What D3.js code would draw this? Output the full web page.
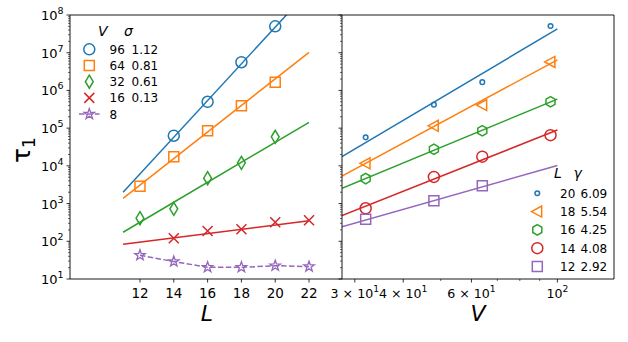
<!DOCTYPE html>
<html><head><meta charset="utf-8">
<script src="https://cdn.jsdelivr.net/npm/d3@7"></script>
<style>body{margin:0;background:#fff}svg{display:block;font-family:"DejaVu Sans",sans-serif}</style>
</head><body><svg id="c" width="628" height="342"></svg>
<script>
// ---- data ----
const Lvals = [12, 14, 16, 18, 20, 22];
const Vlabels = [96, 64, 32, 16, 8];
const sigmaLabels = ["1.12", "0.81", "0.61", "0.13", ""];
const tauV96 = [null, 6.3e4, 5.0e5, 5.6e6, 5.0e7, null];
const tauV64 = [2.9e3, 1.75e4, 8.5e4, 3.9e5, 1.66e6, null];
const tauV32 = [410, 725, 4.7e3, 1.2e4, 5.9e4, null];
const tauV16 = [null, 120, 187, 208, 318, 360];
const tauV8  = [42.5, 29, 20.5, 20.5, 22.5, 21.3];
const fitSigma = [1.12, 0.81, 0.61, 0.13];          // slope of ln(tau) vs L
const fitLog10Pref = [-2.05, -0.73, -0.675, 1.30];  // log10 prefactor
const fitLRange = [11, 22];

const Vvals = [32, 48, 64, 96];
const Llabels = [20, 18, 16, 14, 12];
const gammaLabels = ["6.09", "5.54", "4.25", "4.08", "2.92"];
const tauL20 = [5.7e4, 4.2e5, 1.66e6, 5.1e7];
const tauL18 = [1.17e4, 1.15e5, 4.1e5, 5.7e6];
const tauL16 = [4.6e3, 2.75e4, 8.5e4, 5.0e5];
const tauL14 = [750, 5.1e3, 1.75e4, 6.5e4];
const tauL12 = [382, 1.18e3, 2.95e3, null];
const fitGamma = [6.09, 5.54, 4.25, 4.08, 2.92];
const fitLog10PrefV = [-4.55, -4.27, -2.73, -3.21, -1.83];
const fitVRange = [27.8, 100];

const yTicks = [1e1, 1e2, 1e3, 1e4, 1e5, 1e6, 1e7, 1e8];
const yTickExp = ["1", "2", "3", "4", "5", "6", "7", "8"];
const xTicksL = [12, 14, 16, 18, 20, 22];
const xTicksV = [30, 40, 60, 100];
const xTickVLabels = [["3 × 10", "1"], ["4 × 10", "1"], ["6 × 10", "1"], ["10", "2"]];
const xMinorV = [50, 70, 80, 90];

const colors = ["#1f77b4", "#ff7f0e", "#2ca02c", "#d62728", "#9467bd"];

// ---- layout ----
const svg = d3.select("#c");
const yTop = 15, yBot = 279;
const lx0 = 70, lx1 = 342, rx0 = 342, rx1 = 614;
const y = d3.scaleLog().domain([10, 1e8]).range([yBot, yTop]);
const xL = d3.scaleLinear().domain([7.86, 23.95]).range([lx0, lx1]);
const xV = d3.scaleLog().domain([27.8, 140]).range([rx0, rx1]);

const defs = svg.append("defs");
defs.append("clipPath").attr("id", "clipL").append("rect").attr("x", lx0).attr("y", yTop).attr("width", lx1 - lx0).attr("height", yBot - yTop);
defs.append("clipPath").attr("id", "clipR").append("rect").attr("x", rx0).attr("y", yTop).attr("width", rx1 - rx0).attr("height", yBot - yTop);

// marker paths centred on 0,0
function marker(type, s) {
  switch (type) {
    case "circle": { const p = d3.path(); p.arc(0, 0, s, 0, 2 * Math.PI); p.closePath(); return p.toString(); }
    case "square": return `M${-s},${-s}L${s},${-s}L${s},${s}L${-s},${s}Z`;
    case "tdiamond": return `M0,${-s}L${s * 0.6},0L0,${s}L${-s * 0.6},0Z`;
    case "x": return `M${-s},${-s}L${s},${s}M${-s},${s}L${s},${-s}`;
    case "star": {
      let d = "";
      for (let i = 0; i < 10; i++) {
        const r = i % 2 === 0 ? s : s * 0.4;
        const a = -Math.PI / 2 + i * Math.PI / 5;
        d += (i === 0 ? "M" : "L") + (r * Math.cos(a)).toFixed(2) + "," + (r * Math.sin(a)).toFixed(2);
      }
      return d + "Z";
    }
    case "ltri": return `M${-s},0L${s * 0.75},${-s * 0.95}L${s * 0.75},${s * 0.95}Z`;
    case "hex": {
      let d = "";
      for (let i = 0; i < 6; i++) {
        const a = -Math.PI / 2 + i * Math.PI / 3;
        d += (i === 0 ? "M" : "L") + (s * Math.cos(a)).toFixed(2) + "," + (s * Math.sin(a)).toFixed(2);
      }
      return d + "Z";
    }
  }
}
function drawMarker(g, type, s, color, cx, cy, sw) {
  g.append("path").attr("d", marker(type, s)).attr("transform", `translate(${cx},${cy})`)
    .attr("fill", "none").attr("stroke", color).attr("stroke-width", sw || 1.5).attr("stroke-linejoin", "miter");
}

// ---- left panel ----
const gL = svg.append("g");
const fitLine = d3.line();
const gLc = gL.append("g").attr("clip-path", "url(#clipL)");
fitSigma.forEach((s, i) => {
  const pts = fitLRange.map(L => [xL(L), y(Math.pow(10, fitLog10Pref[i] + s * L / Math.LN10))]);
  gLc.append("path").attr("d", fitLine(pts)).attr("fill", "none").attr("stroke", colors[i]).attr("stroke-width", 1.5);
});
const seriesL = [tauV96, tauV64, tauV32, tauV16, tauV8];
const typesL = ["circle", "square", "tdiamond", "x", "star"];
const sizesL = [5.5, 5, 6.5, 5, 5.5];
const swL = [1.5, 1.5, 1.5, 1.5, 1.3];
const dashPts = Lvals.map((L, j) => [xL(L), y(tauV8[j])]);
gLc.append("path").attr("d", fitLine(dashPts)).attr("fill", "none").attr("stroke", colors[4]).attr("stroke-width", 1.5).attr("stroke-dasharray", "5.5,2.4");
seriesL.forEach((ser, i) => {
  ser.forEach((v, j) => { if (v != null) drawMarker(gLc, typesL[i], sizesL[i], colors[i], xL(Lvals[j]), y(v), swL[i]); });
});

// ---- right panel ----
const gR = svg.append("g");
const gRc = gR.append("g").attr("clip-path", "url(#clipR)");
fitGamma.forEach((g, i) => {
  const pts = fitVRange.map(V => [xV(V), y(Math.pow(10, fitLog10PrefV[i] + g * Math.log10(V)))]);
  gRc.append("path").attr("d", fitLine(pts)).attr("fill", "none").attr("stroke", colors[i]).attr("stroke-width", 1.5);
});
const seriesR = [tauL20, tauL18, tauL16, tauL14, tauL12];
const typesR = ["circle", "ltri", "hex", "circle", "square"];
const sizesR = [2.3, 5.8, 5.2, 5.5, 5];
seriesR.forEach((ser, i) => {
  ser.forEach((v, j) => { if (v != null) drawMarker(gRc, typesR[i], sizesR[i], colors[i], xV(Vvals[j]), y(v)); });
});

// ---- axes ----
const ax = svg.append("g").attr("stroke", "#000");
function yTicksAt(x0) {
  for (let e = 1; e < 8; e++) for (let m = 2; m <= 9; m++) {
    const yy = y(m * Math.pow(10, e));
    ax.append("line").attr("x1", x0).attr("x2", x0 - 2).attr("y1", yy).attr("y2", yy).attr("stroke-width", 0.6);
  }
  yTicks.forEach(t => ax.append("line").attr("x1", x0).attr("x2", x0 - 3.5).attr("y1", y(t)).attr("y2", y(t)).attr("stroke-width", 0.8));
}
yTicksAt(lx0);
yTicksAt(rx0);
xTicksL.forEach(t => ax.append("line").attr("x1", xL(t)).attr("x2", xL(t)).attr("y1", yBot).attr("y2", yBot + 3.5).attr("stroke-width", 0.8));
xTicksV.forEach(t => ax.append("line").attr("x1", xV(t)).attr("x2", xV(t)).attr("y1", yBot).attr("y2", yBot + 3.5).attr("stroke-width", 0.8));
xMinorV.forEach(t => ax.append("line").attr("x1", xV(t)).attr("x2", xV(t)).attr("y1", yBot).attr("y2", yBot + 2).attr("stroke-width", 0.6));
ax.append("path").attr("d", `M${lx0},${yTop}L${rx1},${yTop}L${rx1},${yBot}L${lx0},${yBot}Z M${rx0},${yTop}L${rx0},${yBot}`)
  .attr("fill", "none").attr("stroke-width", 0.9);

// tick labels
const tl = svg.append("g").attr("fill", "#000");
yTicks.forEach((t, i) => {
  const tx = tl.append("text").attr("x", 63.5).attr("y", y(t) + 5).attr("text-anchor", "end").attr("font-size", 13);
  tx.append("tspan").text("10");
  tx.append("tspan").attr("font-size", 9.5).attr("dy", -6).text(yTickExp[i]);
});
xTicksL.forEach(t => tl.append("text").attr("x", xL(t)).attr("y", yBot + 19).attr("text-anchor", "middle").attr("font-size", 13.5).text(t));
xTicksV.forEach((t, i) => {
  const tx = tl.append("text").attr("x", xV(t)).attr("y", yBot + 19).attr("text-anchor", "middle").attr("font-size", 12.6);
  tx.append("tspan").text(xTickVLabels[i][0]);
  tx.append("tspan").attr("font-size", 9.2).attr("dy", -6).text(xTickVLabels[i][1]);
});

// axis labels
tl.append("text").attr("x", 207).attr("y", 321).attr("text-anchor", "middle").attr("font-size", 22).attr("font-style", "italic").text("L");
tl.append("text").attr("x", 478).attr("y", 321).attr("text-anchor", "middle").attr("font-size", 22).attr("font-style", "italic").text("V");
const yl = tl.append("text").attr("transform", "translate(30,150) rotate(-90)").attr("text-anchor", "middle").attr("font-size", 25);
yl.append("tspan").text("τ");
yl.append("tspan").attr("font-size", 17).attr("dy", 5).text("1");

// ---- legends ----
const lg = svg.append("g").attr("font-size", 12);
lg.append("text").attr("x", 98).attr("y", 36).attr("font-size", 14).attr("font-style", "italic").text("V");
lg.append("text").attr("x", 124).attr("y", 36).attr("font-size", 14).attr("font-style", "italic").text("σ");
Vlabels.forEach((v, i) => {
  const yy = 49.3 + i * 16.2;
  if (i === 4) {
    lg.append("line").attr("x1", 79).attr("x2", 99.5).attr("y1", yy).attr("y2", yy).attr("stroke", colors[4]).attr("stroke-width", 1.5).attr("stroke-dasharray", "5.5,2.4");
  }
  drawMarker(lg, typesL[i], sizesL[i], colors[i], 89.3, yy, swL[i]);
  lg.append("text").attr("x", 109.5).attr("y", yy + 4.5).text(v);
  lg.append("text").attr("x", 131.5).attr("y", yy + 4.5).text(sigmaLabels[i]);
});
lg.append("text").attr("x", 554).attr("y", 178).attr("font-size", 14).attr("font-style", "italic").text("L");
lg.append("text").attr("x", 573.5).attr("y", 178).attr("font-size", 14).attr("font-style", "italic").text("γ");
Llabels.forEach((l, i) => {
  const yy = 193.3 + i * 18.3;
  drawMarker(lg, typesR[i], sizesR[i], colors[i], 537.3, yy);
  lg.append("text").attr("x", 560).attr("y", yy + 4.5).text(l);
  lg.append("text").attr("x", 580.5).attr("y", yy + 4.5).text(gammaLabels[i]);
});
</script></body></html>
